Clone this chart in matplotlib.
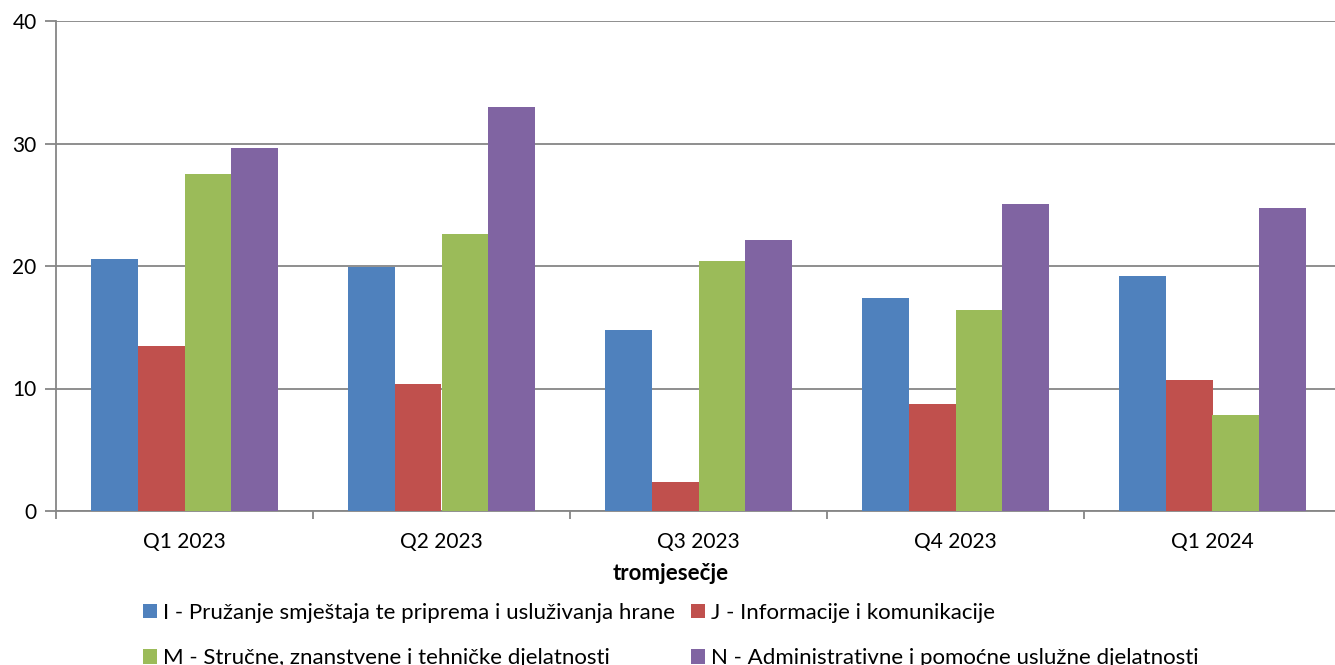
import matplotlib
matplotlib.use("Agg")
import matplotlib.pyplot as plt
import numpy as np
from matplotlib.patches import Patch

categories = ["Q1 2023", "Q2 2023", "Q3 2023", "Q4 2023", "Q1 2024"]
series_names = [
    "I - Pružanje smještaja te priprema i usluživanja hrane",
    "J - Informacije i komunikacije",
    "M - Stručne, znanstvene i tehničke djelatnosti",
    "N - Administrativne i pomoćne uslužne djelatnosti",
]
vals_I = [20.6, 19.9, 14.8, 17.4, 19.2]
vals_J = [13.5, 10.4, 2.4, 8.7, 10.7]
vals_M = [27.5, 22.6, 20.4, 16.4, 7.8]
vals_N = [29.6, 33.0, 22.1, 25.1, 24.7]
y_ticks = [0, 10, 20, 30, 40]
x_label = "tromjesečje"

colors = ["#4F81BD", "#C0504D", "#9BBB59", "#8064A2"]
series = [vals_I, vals_J, vals_M, vals_N]

plt.rcParams['font.family'] = ['Lato', 'DejaVu Sans']

fig = plt.figure(figsize=(13.35, 6.65), dpi=100)
W, H = 1335, 665
left, right, top, bottom = 56, 1341, 21, 511
ax = fig.add_axes([left / W, 1 - bottom / H, (right - left) / W, (bottom - top) / H])

x = np.arange(len(categories))
bw = 0.181
for i, (vals, c) in enumerate(zip(series, colors)):
    ax.bar(x + (i - 1.5) * bw, vals, width=bw, color=c, zorder=3, linewidth=0)

ax.set_xlim(-0.5, len(categories) - 0.5)
ax.set_ylim(0, 40)
ax.set_yticks(y_ticks)
ax.set_xticks(x)
ax.set_xticklabels(categories, fontsize=15)
ax.set_xticks(np.arange(len(categories) + 1) - 0.5, minor=True)
ax.tick_params(axis='x', which='major', length=0, pad=15)
ax.tick_params(axis='x', which='minor', length=6, color="#868686", width=1.3, direction='out')
ax.tick_params(axis='y', length=8, color="#868686", width=1.3, labelsize=15, pad=6)
ax.yaxis.grid(True, color="#868686", linewidth=1.3, zorder=0)
for s in ["top", "right"]:
    ax.spines[s].set_visible(False)
for s in ["left", "bottom"]:
    ax.spines[s].set_color("#868686")
    ax.spines[s].set_linewidth(1.3)

fig.text(671 / W, 1 - 574 / H, x_label, ha='center', va='center',
         fontsize=16, fontweight='bold')

order = [0, 2, 1, 3]
handles = [Patch(facecolor=colors[i], edgecolor='none') for i in order]
labels = [series_names[i] for i in order]
fig.legend(handles, labels, ncol=2, loc='upper left', bbox_to_anchor=(143 / W, 1 - 603 / H),
           frameon=False, fontsize=16, handlelength=0.63, handleheight=0.63,
           handletextpad=0.27, columnspacing=0.7, labelspacing=1.13, borderpad=0, borderaxespad=0)

fig.savefig("out.png", dpi=100)
